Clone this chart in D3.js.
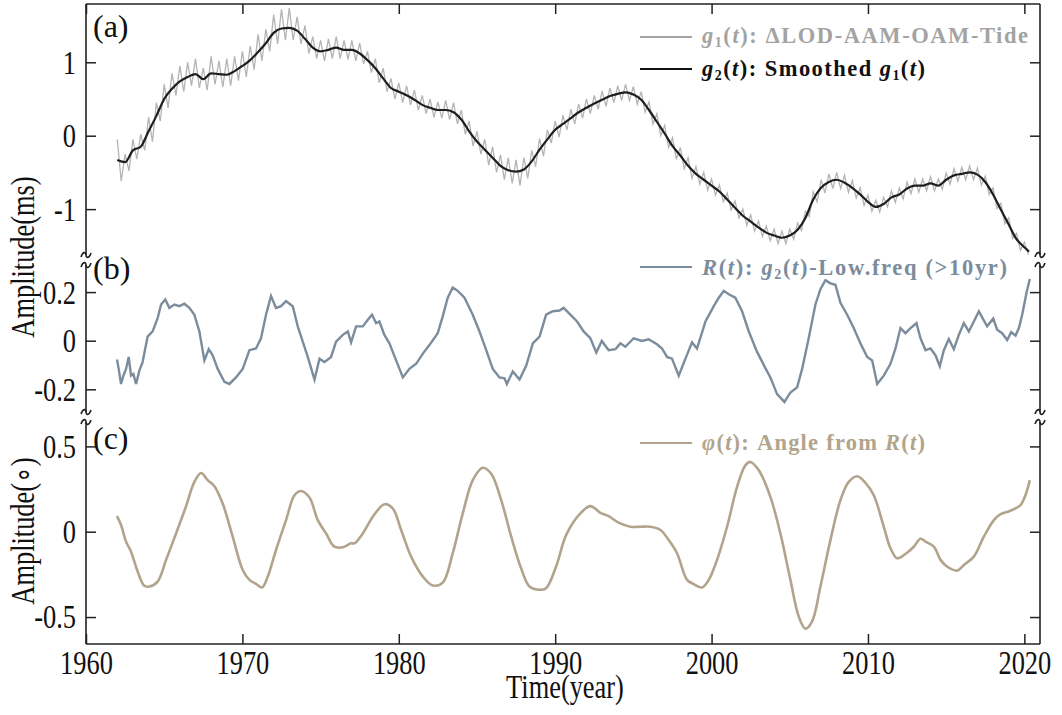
<!DOCTYPE html>
<html><head><meta charset="utf-8">
<script src="https://cdn.jsdelivr.net/npm/d3@7"></script>
<style>
html,body{margin:0;padding:0;background:#fff;}
svg{display:block;}
text{font-family:"Liberation Serif","Times New Roman",serif;}
</style></head><body>
<svg id="chart" width="1062" height="715"></svg>
<script>
// ---------------- DATA ----------------
const xTicks = [1960, 1970, 1980, 1990, 2000, 2010, 2020];
const aTicks = [-1, 0, 1];
const bTicks = [-0.2, 0, 0.2];
const cTicks = [-0.5, 0, 0.5];
const bTickLabels = ["-0.2", "0", "0.2"];
const cTickLabels = ["-0.5", "0", "0.5"];

// g2(t): smoothed series (year, ms)
const g2Years = [1962,1962.5,1963,1963.5,1964,1964.5,1965,1965.5,1966,1966.5,1967,1967.5,1968,1968.5,1969,1969.5,1970,1970.5,1971,1971.5,1972,1972.5,1973,1973.5,1974,1974.5,1975,1975.5,1976,1976.5,1977,1977.5,1978,1978.5,1979,1979.5,1980,1980.5,1981,1981.5,1982,1982.5,1983,1983.5,1984,1984.5,1985,1985.5,1986,1986.5,1987,1987.5,1988,1988.5,1989,1989.5,1990,1990.5,1991,1991.5,1992,1992.5,1993,1993.5,1994,1994.5,1995,1995.5,1996,1996.5,1997,1997.5,1998,1998.5,1999,1999.5,2000,2000.5,2001,2001.5,2002,2002.5,2003,2003.5,2004,2004.5,2005,2005.5,2006,2006.5,2007,2007.5,2008,2008.5,2009,2009.5,2010,2010.5,2011,2011.5,2012,2012.5,2013,2013.5,2014,2014.5,2015,2015.5,2016,2016.5,2017,2017.5,2018,2018.5,2019,2019.5,2020,2020.3];
const g2Values = [-0.33,-0.36,-0.20,-0.15,0.06,0.27,0.50,0.64,0.74,0.80,0.84,0.77,0.85,0.84,0.83,0.88,0.95,1.03,1.14,1.26,1.40,1.46,1.47,1.43,1.32,1.20,1.15,1.17,1.20,1.17,1.17,1.12,1.03,0.92,0.78,0.65,0.60,0.55,0.49,0.42,0.38,0.35,0.35,0.32,0.22,0.06,-0.08,-0.19,-0.30,-0.41,-0.47,-0.49,-0.46,-0.35,-0.19,-0.05,0.08,0.16,0.24,0.32,0.38,0.44,0.49,0.54,0.57,0.59,0.56,0.49,0.35,0.19,0.03,-0.14,-0.27,-0.41,-0.52,-0.60,-0.68,-0.76,-0.87,-0.98,-1.09,-1.17,-1.25,-1.32,-1.36,-1.39,-1.36,-1.28,-1.12,-0.87,-0.71,-0.63,-0.60,-0.64,-0.71,-0.80,-0.90,-0.97,-0.93,-0.84,-0.80,-0.72,-0.68,-0.68,-0.65,-0.68,-0.60,-0.54,-0.52,-0.50,-0.53,-0.63,-0.80,-1.01,-1.21,-1.41,-1.52,-1.58];

// g1(t): raw series, quarterly from 1962.0 (ms)
const g1Start = 1962, g1Step = 0.25;
const g1Values = [
-0.05,-0.62,-0.25,-0.48, -0.05,-0.32,0.02,-0.20, 0.25,-0.08,0.45,0.20, 0.70,0.38,0.85,0.55,
0.95,0.60,1.00,0.68, 1.05,0.65,0.92,0.62, 1.08,0.70,1.02,0.66, 1.05,0.68,1.08,0.75,
1.15,0.80,1.22,0.90, 1.38,1.02,1.45,1.15, 1.65,1.25,1.72,1.30, 1.74,1.30,1.62,1.25,
1.50,1.12,1.35,1.05, 1.30,1.02,1.32,1.05, 1.35,1.05,1.30,1.04, 1.30,1.02,1.26,0.98,
1.15,0.86,1.05,0.72, 0.92,0.60,0.78,0.50, 0.72,0.45,0.68,0.42, 0.62,0.35,0.55,0.30,
0.50,0.25,0.46,0.24, 0.48,0.22,0.45,0.16, 0.35,0.02,0.20,-0.14, 0.06,-0.25,-0.05,-0.40,
-0.15,-0.50,-0.26,-0.60, -0.30,-0.65,-0.33,-0.68, -0.30,-0.58,-0.20,-0.42, -0.04,-0.28,0.08,-0.10,
0.20,-0.02,0.28,0.08, 0.36,0.16,0.43,0.24, 0.50,0.30,0.55,0.36, 0.61,0.40,0.65,0.45,
0.68,0.48,0.70,0.48, 0.67,0.43,0.60,0.32, 0.46,0.16,0.30,0.00, 0.14,-0.16,-0.03,-0.32,
-0.16,-0.45,-0.30,-0.58, -0.42,-0.66,-0.50,-0.74, -0.59,-0.81,-0.67,-0.90, -0.78,-1.01,-0.89,-1.12,
-1.00,-1.22,-1.08,-1.30, -1.16,-1.37,-1.23,-1.43, -1.27,-1.47,-1.30,-1.47, -1.27,-1.41,-1.19,-1.29,
-1.03,-1.10,-0.76,-0.90, -0.60,-0.78,-0.52,-0.72, -0.50,-0.72,-0.54,-0.77, -0.61,-0.85,-0.71,-0.95,
-0.81,-1.03,-0.88,-1.04, -0.84,-0.97,-0.75,-0.91, -0.71,-0.86,-0.63,-0.79, -0.59,-0.77,-0.59,-0.75,
-0.56,-0.75,-0.59,-0.73, -0.51,-0.66,-0.45,-0.62, -0.43,-0.60,-0.41,-0.60, -0.44,-0.67,-0.55,-0.80,
-0.71,-0.99,-0.92,-1.20, -1.12,-1.40,-1.33,-1.56, -1.45,-1.62];

// R(t): g2(t) - low freq (>10yr)
const rYears = [1961.98,1962.09,1962.24,1962.39,1962.56,1962.73,1962.88,1963.03,1963.20,1963.41,1963.62,1963.94,1964.26,1964.58,1964.80,1965.07,1965.33,1965.65,1965.97,1966.29,1966.61,1966.93,1967.25,1967.57,1967.85,1968.10,1968.42,1968.85,1969.17,1969.59,1970.02,1970.45,1970.87,1971.19,1971.51,1971.83,1972.15,1972.47,1972.79,1973.22,1973.54,1973.86,1974.18,1974.61,1974.93,1975.25,1975.67,1975.99,1976.42,1976.74,1976.95,1977.27,1977.70,1978.02,1978.29,1978.55,1978.76,1979.08,1979.40,1979.83,1980.26,1980.68,1981.11,1981.54,1981.96,1982.49,1982.81,1983.13,1983.45,1983.77,1984.20,1984.73,1985.16,1985.59,1986.01,1986.44,1986.76,1986.91,1987.29,1987.72,1988.15,1988.57,1989.00,1989.42,1989.85,1990.28,1990.54,1990.97,1991.40,1991.82,1992.25,1992.63,1992.98,1993.42,1993.85,1994.17,1994.49,1995.02,1995.55,1995.98,1996.51,1996.83,1997.15,1997.47,1997.90,1998.33,1998.75,1999.07,1999.61,2000.14,2000.46,2000.78,2001.10,2001.52,2001.95,2002.38,2002.91,2003.44,2003.76,2004.19,2004.66,2005.04,2005.47,2005.79,2006.21,2006.64,2006.96,2007.28,2007.60,2007.92,2008.24,2008.67,2009.09,2009.52,2009.95,2010.27,2010.59,2011.01,2011.44,2011.76,2012.08,2012.40,2012.72,2013.10,2013.36,2013.68,2014.00,2014.32,2014.59,2014.85,2015.17,2015.49,2015.81,2016.13,2016.45,2016.77,2017.09,2017.30,2017.62,2018.01,2018.26,2018.58,2018.90,2019.16,2019.44,2019.65,2019.86,2020.14,2020.35];
const rValues = [-0.077,-0.116,-0.178,-0.144,-0.116,-0.067,-0.144,-0.137,-0.178,-0.123,-0.088,0.017,0.038,0.093,0.149,0.170,0.135,0.149,0.142,0.152,0.135,0.107,0.038,-0.081,-0.035,-0.060,-0.116,-0.169,-0.178,-0.151,-0.116,-0.039,-0.032,0.010,0.107,0.184,0.135,0.142,0.163,0.142,0.059,-0.004,-0.067,-0.160,-0.074,-0.088,-0.067,-0.004,0.024,0.038,-0.007,0.059,0.059,0.086,0.107,0.072,0.079,0.024,-0.011,-0.081,-0.151,-0.116,-0.095,-0.053,-0.018,0.031,0.100,0.177,0.219,0.205,0.177,0.107,0.038,-0.039,-0.116,-0.151,-0.155,-0.178,-0.127,-0.160,-0.102,-0.011,0.017,0.107,0.121,0.124,0.135,0.107,0.079,0.038,0.010,-0.049,-0.001,-0.039,-0.035,-0.011,-0.025,0.010,-0.001,0.006,-0.015,-0.032,-0.067,-0.074,-0.144,-0.074,-0.007,-0.032,0.079,0.142,0.177,0.205,0.191,0.177,0.121,0.038,-0.046,-0.113,-0.151,-0.220,-0.252,-0.213,-0.192,-0.116,0.010,0.149,0.212,0.249,0.236,0.230,0.156,0.107,0.052,-0.011,-0.067,-0.081,-0.178,-0.144,-0.095,-0.032,0.052,0.031,0.052,0.072,0.010,-0.039,-0.032,-0.060,-0.105,-0.039,0.007,-0.035,0.024,0.072,0.038,0.079,0.121,0.096,0.059,0.091,0.045,0.031,0.003,0.035,0.021,0.052,0.107,0.198,0.254];

// phi(t): angle from R(t)
const pYears = [1961.98,1962.24,1962.56,1962.88,1963.30,1963.73,1964.05,1964.58,1965.12,1965.76,1966.40,1966.93,1967.36,1967.78,1968.21,1968.74,1969.38,1970.02,1970.45,1970.87,1971.26,1971.62,1972.15,1972.79,1973.33,1973.75,1974.29,1974.82,1975.35,1975.88,1976.42,1976.95,1977.16,1977.70,1978.34,1979.08,1979.62,1980.15,1980.79,1981.54,1982.17,1982.81,1983.45,1984.09,1984.73,1985.37,1985.91,1986.55,1987.19,1987.82,1988.36,1989.00,1989.42,1990.06,1990.70,1991.61,1992.25,1992.89,1993.42,1994.06,1994.81,1995.45,1996.09,1996.73,1997.26,1997.79,1998.43,1998.86,1999.39,1999.82,2000.35,2000.99,2001.63,2002.16,2002.48,2003.02,2003.76,2004.40,2005.04,2005.57,2006.00,2006.43,2006.96,2007.60,2008.24,2008.77,2009.31,2009.84,2010.37,2011.01,2011.44,2011.87,2012.50,2012.93,2013.36,2013.68,2014.21,2014.64,2015.06,2015.70,2016.13,2016.77,2017.41,2018.05,2018.48,2019.11,2019.75,2020.07,2020.35];
const pValues = [0.091,0.039,-0.058,-0.117,-0.233,-0.317,-0.321,-0.292,-0.165,-0.010,0.150,0.292,0.344,0.302,0.267,0.165,-0.029,-0.224,-0.282,-0.305,-0.327,-0.263,-0.107,0.068,0.214,0.239,0.200,0.068,-0.010,-0.088,-0.091,-0.068,-0.068,-0.010,0.088,0.161,0.136,0.010,-0.146,-0.263,-0.315,-0.298,-0.126,0.107,0.302,0.375,0.340,0.185,-0.029,-0.214,-0.321,-0.340,-0.331,-0.204,-0.020,0.107,0.150,0.111,0.091,0.053,0.029,0.029,0.029,0.010,-0.049,-0.126,-0.282,-0.307,-0.327,-0.282,-0.165,0.029,0.263,0.389,0.409,0.360,0.204,-0.010,-0.282,-0.496,-0.568,-0.525,-0.321,-0.049,0.185,0.292,0.325,0.286,0.214,0.029,-0.097,-0.156,-0.123,-0.088,-0.041,-0.058,-0.088,-0.165,-0.204,-0.228,-0.195,-0.146,-0.029,0.068,0.103,0.123,0.156,0.214,0.302];

// ---------------- CHART ----------------
const svg = d3.select("#chart");
const W = 1062, H = 715;
svg.append("rect").attr("width", W).attr("height", H).attr("fill", "#fff");

const L = 86, R = 1040, T = 4, B = 644;
const SX = 0.8;           // horizontal compression of the serif axis text
const FS = "33px";
const x = d3.scaleLinear().domain([1960, 2021]).range([L, R]);
const panels = [
  {key:"a", y: d3.scaleLinear().domain([-1.625, 1.794]).range([255, T]), top:T, bot:255, ticks:aTicks, fmt:d=>String(d)},
  {key:"b", y: d3.scaleLinear().domain([-0.2934, 0.3115]).range([412, 265]), top:265, bot:412, ticks:bTicks, fmt:(d,i)=>bTickLabels[i]},
  {key:"c", y: d3.scaleLinear().domain([-0.658, 0.643]).range([B, 422]), top:422, bot:B, ticks:cTicks, fmt:(d,i)=>cTickLabels[i]}
];

const defs = svg.append("defs");
panels.forEach(p => {
  defs.append("clipPath").attr("id", "clip-" + p.key)
    .append("rect").attr("x", L).attr("y", p.top).attr("width", R - L).attr("height", p.bot - p.top);
});

const axisColor = "#222";

// y axes (left with labels, right mirrored)
panels.forEach(p => {
  const gl = svg.append("g").attr("transform", `translate(${L},0)`)
    .call(d3.axisLeft(p.y).tickValues(p.ticks).tickSizeInner(-10).tickSizeOuter(0).tickFormat(p.fmt));
  gl.select(".domain").remove();
  gl.selectAll(".tick line").attr("stroke", axisColor).attr("stroke-width", 1.5);
  gl.selectAll(".tick text").attr("font-size", FS).attr("fill", "#111")
    .attr("font-family", '"Liberation Serif","Times New Roman",serif')
    .attr("x", -10 / SX).attr("dy", "0.33em").attr("transform", `scale(${SX},1)`);
  const gr = svg.append("g").attr("transform", `translate(${R},0)`)
    .call(d3.axisRight(p.y).tickValues(p.ticks).tickSizeInner(-10).tickSizeOuter(0).tickFormat(""));
  gr.select(".domain").remove();
  gr.selectAll(".tick line").attr("stroke", axisColor).attr("stroke-width", 1.5);
  [L, R].forEach(xx => {
    svg.append("line").attr("x1", xx).attr("x2", xx).attr("y1", p.top).attr("y2", p.bot)
      .attr("stroke", axisColor).attr("stroke-width", 1.6);
  });
});

// x axes
const gb = svg.append("g").attr("transform", `translate(0,${B})`)
  .call(d3.axisBottom(x).tickValues(xTicks).tickSizeInner(-10).tickSizeOuter(0).tickFormat(d3.format("d")));
gb.select(".domain").remove();
gb.selectAll(".tick line").attr("stroke", axisColor).attr("stroke-width", 1.5);
gb.selectAll(".tick text").attr("font-size", FS).attr("fill", "#111")
  .attr("font-family", '"Liberation Serif","Times New Roman",serif')
  .attr("y", 30).attr("dy", 0).attr("transform", `scale(${SX},1)`);
const gt = svg.append("g").attr("transform", `translate(0,${T})`)
  .call(d3.axisTop(x).tickValues(xTicks).tickSizeInner(-10).tickSizeOuter(0).tickFormat(""));
gt.select(".domain").remove();
gt.selectAll(".tick line").attr("stroke", axisColor).attr("stroke-width", 1.5);
svg.append("line").attr("x1", L).attr("x2", R).attr("y1", B).attr("y2", B).attr("stroke", axisColor).attr("stroke-width", 1.6);
svg.append("line").attr("x1", L).attr("x2", R).attr("y1", T).attr("y2", T).attr("stroke", axisColor).attr("stroke-width", 1.6);

// break marks
function tilde(xx, yy) {
  svg.append("path")
    .attr("d", `M${xx-5},${yy+2} C${xx-3},${yy-4} ${xx},${yy-3} ${xx},${yy} S${xx+3},${yy+4} ${xx+5},${yy-2}`)
    .attr("fill", "none").attr("stroke", axisColor).attr("stroke-width", 1.6);
}
[[255,265],[412,422]].forEach(pair => pair.forEach(yy => { tilde(L, yy); tilde(R, yy); }));

// lines
const pa = panels[0], pb = panels[1], pc = panels[2];
const g1Data = g1Values.map((v, i) => [g1Start + i * g1Step, v]);
const g2Data = g2Years.map((t, i) => [t, g2Values[i]]);
const rData = rYears.map((t, i) => [t, rValues[i]]);
const pData = pYears.map((t, i) => [t, pValues[i]]);

svg.append("path").datum(g1Data).attr("clip-path", "url(#clip-a)")
  .attr("d", d3.line().x(d => x(d[0])).y(d => pa.y(d[1])))
  .attr("fill", "none").attr("stroke", "#b4b4b4").attr("stroke-width", 1.3);
svg.append("path").datum(g2Data).attr("clip-path", "url(#clip-a)")
  .attr("d", d3.line().curve(d3.curveMonotoneX).x(d => x(d[0])).y(d => pa.y(d[1])))
  .attr("fill", "none").attr("stroke", "#1e1e1e").attr("stroke-width", 2.2);
svg.append("path").datum(rData).attr("clip-path", "url(#clip-b)")
  .attr("d", d3.line().x(d => x(d[0])).y(d => pb.y(d[1])))
  .attr("fill", "none").attr("stroke", "#7b8c9c").attr("stroke-width", 2.4);
svg.append("path").datum(pData).attr("clip-path", "url(#clip-c)")
  .attr("d", d3.line().curve(d3.curveCatmullRom).x(d => x(d[0])).y(d => pc.y(d[1])))
  .attr("fill", "none").attr("stroke", "#b2a48c").attr("stroke-width", 2.6);

// panel labels
[["(a)", 93, 37], ["(b)", 93, 279], ["(c)", 93, 449]].forEach(([t, xx, yy]) => {
  svg.append("text").attr("x", xx).attr("y", yy).attr("font-size", "32px").attr("fill", "#111").text(t);
});

// axis titles
function sText(tx, ty, rot, str) {
  svg.append("text").attr("transform", `translate(${tx},${ty}) rotate(${rot}) scale(${SX},1)`)
    .attr("text-anchor", "middle").attr("font-size", FS).attr("fill", "#111").text(str);
}
sText(34, 257, -90, "Amplitude(ms)");
sText(34, 531, -90, "Amplitude(\u2218)");
sText(565, 698, 0, "Time(year)");

// legends
function legendEntry(y, color, parts, lineY, len) {
  svg.append("line").attr("x1", 640).attr("x2", 692).attr("y1", lineY).attr("y2", lineY)
    .attr("stroke", color).attr("stroke-width", 2);
  const t = svg.append("text").attr("x", 702).attr("y", y).attr("font-size", "22.5px")
    .attr("font-weight", "bold").attr("fill", color)
    .attr("textLength", len).attr("lengthAdjust", "spacing");
  parts.forEach(pt => {
    const s = t.append("tspan").text(pt.t);
    if (pt.i) s.attr("font-style", "italic");
    if (pt.sub) s.attr("font-size", "14px").attr("dy", 4);
    if (pt.up) s.attr("dy", -4);
  });
}
const gray = "#a3a3a3";
legendEntry(43, gray, [{t:"g", i:1},{t:"1", sub:1},{t:"(", up:1},{t:"t", i:1},{t:"): \u0394LOD-AAM-OAM-Tide"}], 37, 326);
legendEntry(76, "#111", [{t:"g", i:1},{t:"2", sub:1},{t:"(", up:1},{t:"t", i:1},{t:"): Smoothed "},{t:"g", i:1},{t:"1", sub:1},{t:"(", up:1},{t:"t", i:1},{t:")"}], 69, 223);
legendEntry(275, "#7b8c9c", [{t:"R", i:1},{t:"(",},{t:"t", i:1},{t:"): "},{t:"g", i:1},{t:"2", sub:1},{t:"(", up:1},{t:"t", i:1},{t:")-Low.freq (>10yr)"}], 267, 305);
legendEntry(450, "#b2a48c", [{t:"\u03c6", i:1},{t:"("},{t:"t", i:1},{t:"): Angle from "},{t:"R", i:1},{t:"("},{t:"t", i:1},{t:")"}], 443, 223);
</script>
</body></html>
